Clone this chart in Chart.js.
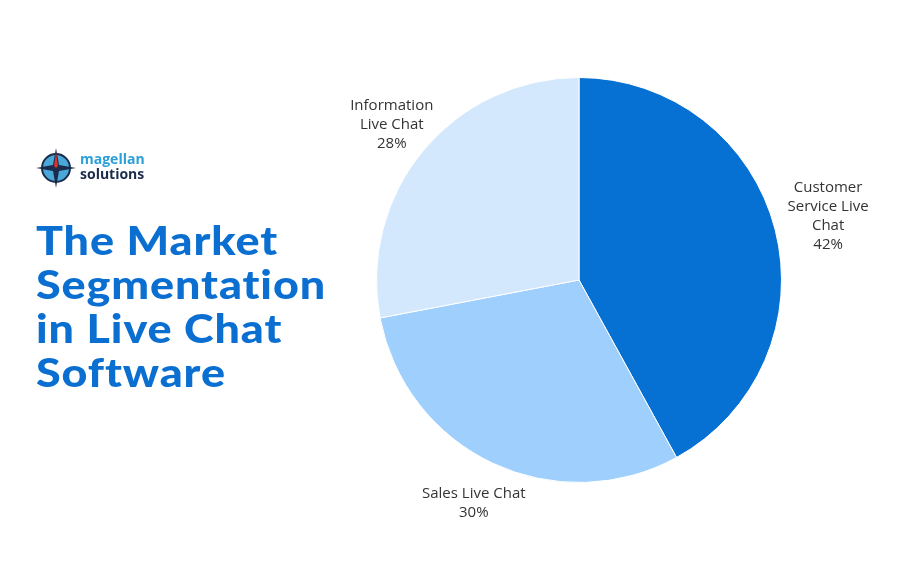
<!DOCTYPE html>
<html>
<head>
<meta charset="utf-8">
<script src="https://cdn.jsdelivr.net/npm/chart.js@4"></script>
<style>
body{margin:0;background:#fff;font-family:Lato,sans-serif;}
#wrap{position:relative;width:900px;height:588px;overflow:hidden;}
#c{position:absolute;left:0;top:0;}
.title{position:absolute;left:36px;top:218px;color:#0a6fd1;font-family:Lato,sans-serif;font-weight:900;font-size:39px;line-height:44px;letter-spacing:0.8px;transform:scaleX(1.15);transform-origin:left top;}
.logo{position:absolute;left:36px;top:148px;}
.logo .t{position:absolute;left:44px;top:3px;font-family:"Open Sans",sans-serif;font-size:14px;line-height:15px;font-weight:700;color:#1a2b4c;}
.logo .t span{color:#2a9fd8;}
</style>
</head>
<body>
<div id="wrap">
<canvas id="c" width="900" height="588"></canvas>
<div class="logo">
<svg width="40" height="40" viewBox="0 0 40 40">
<circle cx="20" cy="20" r="14" fill="#4aa8d8" stroke="#1a2b4c" stroke-width="2"/>
<polygon points="20,0 23,17 40,20 23,23 20,40 17,23 0,20 17,17" fill="#1a2b4c"/>
<polygon points="20,4 22,18 20,20 18,18" fill="#d9342b"/>
</svg>
<div class="t"><span>magellan</span><br>solutions</div>
</div>
<div class="title">The Market<br>Segmentation<br>in Live Chat<br>Software</div>
</div>
<script>
// datos del grafico
var categorias = [['Customer', 'Service Live', 'Chat'], ['Sales Live Chat'], ['Information', 'Live Chat']];
var valores = [42, 30, 28];
var cores = ['#0770d3', '#9ecffd', '#d3e7fd'];
var distRotulo = [1.27, 1.22, 1.2]; // distancia do rotulo em relacao ao raio

// rotulos fora das fatias
var rotulos = {
    id: 'rotulos',
    afterDraw: function (chart) {
        var c = chart.ctx;
        var arcs = chart.getDatasetMeta(0).data;
        c.save();
        c.font = '15px "Open Sans", sans-serif';
        c.fillStyle = '#333';
        c.textAlign = 'center';
        c.textBaseline = 'middle';
        arcs.forEach(function (a, i) {
            var ang = (a.startAngle + a.endAngle) / 2;
            var r = a.outerRadius * distRotulo[i];
            var x = a.x + Math.cos(ang) * r;
            var y = a.y + Math.sin(ang) * r;
            var linhas = categorias[i].concat([valores[i] + '%']);
            var h = 19;
            linhas.forEach(function (l, k) {
                c.fillText(l, x, y + (k - (linhas.length - 1) / 2) * h);
            });
        });
        c.restore();
    }
};

new Chart(document.getElementById('c'), {
    type: 'pie',
    data: {
        labels: categorias.map(function (l) { return l.join(' '); }),
        datasets: [{
            data: valores,
            backgroundColor: cores,
            borderColor: '#fff',
            borderWidth: 1
        }]
    },
    options: {
        responsive: false,
        animation: false,
        layout: { padding: { left: 376, right: 118, top: 77, bottom: 105 } },
        plugins: { legend: { display: false }, tooltip: { enabled: false } }
    },
    plugins: [rotulos]
});
</script>
</body>
</html>
